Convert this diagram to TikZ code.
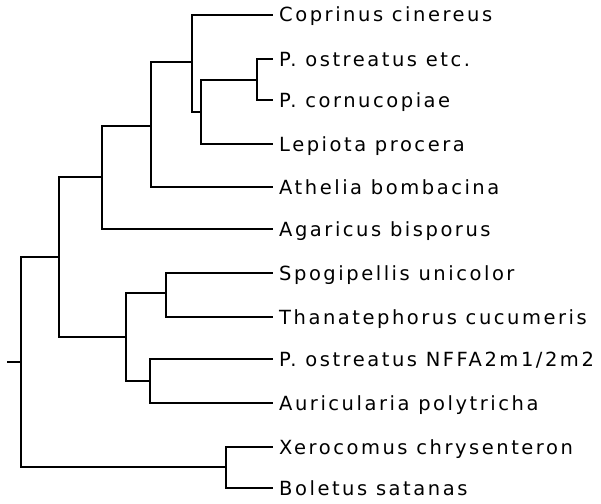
\documentclass[tikz,border=0pt]{standalone}
\usepackage{fontspec}
\setmainfont{DejaVu Sans}[LetterSpace=13]
\begin{document}
\begin{tikzpicture}[x=1pt,y=1pt,
  branch/.style={line width=1.6pt, line cap=rect, line join=miter},
  taxon/.style={anchor=west, inner xsep=7pt, inner ysep=0pt, text height=14pt, text depth=0pt,
    font=\fontsize{19.5}{22}\selectfont}]
\useasboundingbox (0,0) rectangle (601,-503);
% leaves
\node[taxon] (L1) at (272,-15) {Coprinus cinereus};
\node[taxon] (L2) at (272,-59) {P. ostreatus etc.};
\node[taxon] (L3) at (272,-100) {P. cornucopiae};
\node[taxon] (L4) at (272,-144) {Lepiota procera};
\node[taxon] (L5) at (272,-187) {Athelia bombacina};
\node[taxon] (L6) at (272,-229) {Agaricus bisporus};
\node[taxon] (L7) at (272,-273) {Spogipellis unicolor};
\node[taxon] (L8) at (272,-317) {Thanatephorus cucumeris};
\node[taxon] (L9) at (272,-359) {P. ostreatus NFFA2m1/2m2};
\node[taxon] (L10) at (272,-403) {Auricularia polytricha};
\node[taxon] (L11) at (272,-447) {Xerocomus chrysenteron};
\node[taxon] (L12) at (272,-488) {Boletus satanas};
% internal nodes
\coordinate (n23) at (257,-80);
\coordinate (n234) at (201,-112);
\coordinate (n1234) at (192,-62);
\coordinate (n5) at (151,-126);
\coordinate (n6) at (102,-177);
\coordinate (n78) at (166,-293);
\coordinate (n910) at (150,-381);
\coordinate (n710) at (126,-337);
\coordinate (nA) at (59,-257);
\coordinate (n1112) at (226,-467);
\coordinate (root) at (21,-362);
\coordinate (stub) at (8,-362);
% branches
\draw[branch] (L2.west) -| (n23) |- (L3.west);
\draw[branch] (n23) -| (n234) |- (L4.west);
\draw[branch] (L1.west) -| (n1234) |- (n234);
\draw[branch] (n1234) -| (n5) |- (L5.west);
\draw[branch] (n5) -| (n6) |- (L6.west);
\draw[branch] (L7.west) -| (n78) |- (L8.west);
\draw[branch] (L9.west) -| (n910) |- (L10.west);
\draw[branch] (n78) -| (n710) |- (n910);
\draw[branch] (n6) -| (nA) |- (n710);
\draw[branch] (L11.west) -| (n1112) |- (L12.west);
\draw[branch] (nA) -| (root) |- (n1112);
\draw[branch] (stub) -- (root);
\end{tikzpicture}
\end{document}
